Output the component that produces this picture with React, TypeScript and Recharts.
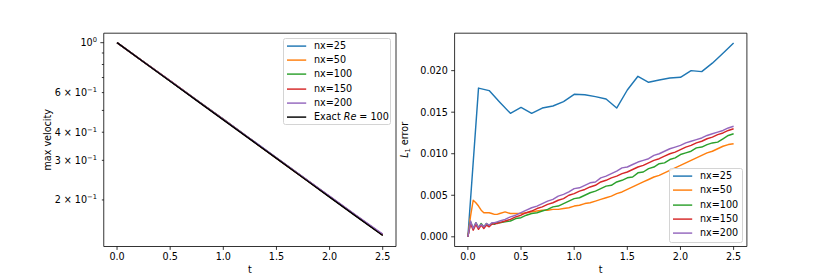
import React from 'react';
import { LineChart, Line, XAxis, YAxis, Legend, ReferenceArea } from 'recharts';

// ---- data ----
const T_VEL = [0, 0.25, 0.5, 0.75, 1.0, 1.25, 1.5, 1.75, 2.0, 2.25, 2.5];
const VEL_NX25 = [1.0, 0.823, 0.677, 0.556, 0.457, 0.375, 0.308, 0.253, 0.207, 0.17, 0.14];
const VEL_NX50 = [1.0, 0.822, 0.676, 0.555, 0.456, 0.374, 0.307, 0.252, 0.207, 0.17, 0.14];
const VEL_NX100 = [1.0, 0.822, 0.675, 0.555, 0.456, 0.374, 0.307, 0.252, 0.207, 0.17, 0.14];
const VEL_NX150 = [1.0, 0.822, 0.676, 0.555, 0.456, 0.374, 0.307, 0.252, 0.207, 0.17, 0.14];
const VEL_NX200 = [1.0, 0.822, 0.676, 0.555, 0.456, 0.375, 0.308, 0.253, 0.208, 0.171, 0.141];
const VEL_EXACT = [1.0, 0.821, 0.674, 0.553, 0.454, 0.373, 0.306, 0.251, 0.206, 0.169, 0.139];

const T_ERR_25 = [
  0, 0.1, 0.2, 0.3, 0.4, 0.5, 0.6, 0.7, 0.8, 0.9, 1.0, 1.1, 1.2, 1.3, 1.4, 1.5, 1.6, 1.7, 1.8, 1.9,
  2.0, 2.1, 2.2, 2.3, 2.4, 2.5,
];
const ERR_NX25 = [
  0, 0.0179, 0.0176, 0.0162, 0.01486, 0.01558, 0.01486, 0.0155, 0.01574, 0.01627, 0.01715, 0.0171,
  0.01687, 0.01659, 0.0155, 0.01767, 0.01932, 0.0186, 0.01888, 0.01912, 0.0192, 0.02, 0.01988,
  0.0209, 0.0221, 0.02333,
];

const T_ERR = [
  0, 0.025, 0.05, 0.075, 0.1, 0.125, 0.15, 0.175, 0.2, 0.225, 0.25, 0.275, 0.3, 0.35, 0.4, 0.45,
  0.5, 0.55, 0.6, 0.65, 0.7, 0.75, 0.8, 0.85, 0.9, 0.95, 1.0, 1.05, 1.1, 1.15, 1.2, 1.25, 1.3, 1.35,
  1.4, 1.45, 1.5, 1.55, 1.6, 1.65, 1.7, 1.75, 1.8, 1.85, 1.9, 1.95, 2.0, 2.05, 2.1, 2.15, 2.2, 2.25,
  2.3, 2.35, 2.4, 2.45, 2.5,
];
const ERR_NX50 = [
  0, 0.0025, 0.0044, 0.0041, 0.0037, 0.0032, 0.0029, 0.0029, 0.0029, 0.0028, 0.0027, 0.0027, 0.0028,
  0.003, 0.0028, 0.0028, 0.0028, 0.0029, 0.003, 0.0031, 0.0032, 0.0032, 0.0033, 0.0033, 0.0034,
  0.0035, 0.0037, 0.0038, 0.004, 0.0041, 0.0043, 0.0045, 0.0047, 0.0049, 0.0052, 0.0054, 0.0057,
  0.006, 0.0063, 0.0066, 0.0069, 0.0072, 0.0074, 0.0077, 0.008, 0.0083, 0.0086, 0.0089, 0.0092,
  0.0095, 0.0098, 0.0101, 0.0103, 0.0106, 0.0109, 0.0111, 0.0112,
];
const ERR_NX100 = [
  0, 0.0018, 0.001, 0.0017, 0.0011, 0.0016, 0.0012, 0.0016, 0.0013, 0.0016, 0.0015, 0.0017, 0.0017,
  0.0018, 0.0019, 0.0022, 0.0023, 0.0026, 0.0028, 0.0029, 0.0031, 0.0033, 0.0036, 0.0037, 0.004,
  0.0043, 0.0046, 0.0047, 0.005, 0.0053, 0.0055, 0.0058, 0.0061, 0.0062, 0.0066, 0.0068, 0.0071,
  0.0072, 0.0077, 0.0078, 0.0082, 0.0084, 0.0088, 0.0089, 0.0093, 0.0095, 0.0099, 0.0101, 0.0103,
  0.0107, 0.0108, 0.0111, 0.0113, 0.0114, 0.0118, 0.0122, 0.0124,
];
const ERR_NX150 = [
  0, 0.0016, 0.0008, 0.0015, 0.0009, 0.0014, 0.001, 0.0014, 0.0012, 0.0015, 0.0016, 0.0016, 0.0017,
  0.0019, 0.0021, 0.0024, 0.0026, 0.0029, 0.0031, 0.0034, 0.0036, 0.0039, 0.0041, 0.0044, 0.0046,
  0.005, 0.0052, 0.0055, 0.0057, 0.006, 0.0062, 0.0066, 0.0068, 0.0071, 0.0073, 0.0076, 0.0078,
  0.0081, 0.0084, 0.0086, 0.0089, 0.0092, 0.0094, 0.0097, 0.01, 0.0102, 0.0105, 0.0108, 0.011,
  0.0113, 0.0115, 0.0118, 0.012, 0.0123, 0.0125, 0.0128, 0.013,
];
const ERR_NX200 = [
  0, 0.0019, 0.001, 0.0017, 0.0011, 0.0015, 0.0012, 0.0016, 0.0014, 0.0017, 0.0017, 0.0018, 0.0019,
  0.0021, 0.0024, 0.0026, 0.0029, 0.0032, 0.0035, 0.0037, 0.004, 0.0043, 0.0045, 0.0049, 0.0051,
  0.0054, 0.0058, 0.0059, 0.0062, 0.0065, 0.0066, 0.0071, 0.0073, 0.0076, 0.0079, 0.0083, 0.0084,
  0.0087, 0.009, 0.0092, 0.0094, 0.0098, 0.01, 0.0103, 0.0106, 0.0108, 0.011, 0.0113, 0.0115,
  0.0117, 0.0119, 0.0122, 0.0124, 0.0126, 0.0128, 0.0131, 0.0133,
];

const T_TICKS = [0, 0.5, 1.0, 1.5, 2.0, 2.5];
const VEL_TICKS = [0.2, 0.3, 0.4, 0.5, 0.6, 0.7, 0.8, 0.9, 1.0];
const VEL_TICK_LABELS: Record<string, [string, string]> = {
  '0.2': ['2 × 10', '−1'],
  '0.3': ['3 × 10', '−1'],
  '0.4': ['4 × 10', '−1'],
  '0.6': ['6 × 10', '−1'],
  '1': ['10', '0'],
};
const ERR_TICKS = [0, 0.005, 0.01, 0.015, 0.02];

const COLORS = ['#1f77b4', '#ff7f0e', '#2ca02c', '#d62728', '#9467bd', '#000000'];
const NAMES = ['nx=25', 'nx=50', 'nx=100', 'nx=150', 'nx=200'];

const rows = (ts: number[], vs: number[]) => ts.map((t, i) => ({ t, v: vs[i] }));

const velSeries = [VEL_NX25, VEL_NX50, VEL_NX100, VEL_NX150, VEL_NX200, VEL_EXACT].map((vs) =>
  rows(T_VEL, vs)
);
const errSeries = [
  rows(T_ERR_25, ERR_NX25),
  rows(T_ERR, ERR_NX50),
  rows(T_ERR, ERR_NX100),
  rows(T_ERR, ERR_NX150),
  rows(T_ERR, ERR_NX200),
];

// ---- styling ----
const FONT = 'DejaVu Sans';
const FS = 9.6;
const LW = 1.44;
const X_DOMAIN: [number, number] = [-0.125, 2.625];
const VEL_DOMAIN: [number, number] = [0.1242, 1.102];
const ERR_DOMAIN: [number, number] = [-0.001167, 0.024507];
const PLOT_L = 103.75;

const tickStyle = { fill: '#000', fontSize: FS, fontFamily: FONT };
const tickLineStyle = { stroke: '#000', strokeWidth: 0.8 };

const LogTick = (props: any) => {
  const { y, payload } = props;
  const v = payload.value;
  const lab = VEL_TICK_LABELS[String(Math.round(v * 10) / 10)];
  const len = v === 1 ? 3.4 : 1.9;
  return (
    <g>
      <line x1={PLOT_L - len} x2={PLOT_L} y1={y} y2={y} stroke="#000" strokeWidth={0.8} />
      {lab && (
        <text
          x={PLOT_L - 3.4 - 3.4}
          y={y}
          dy="0.35em"
          textAnchor="end"
          fontSize={FS}
          fontFamily={FONT}
          fill="#000"
        >
          <tspan>{lab[0]}</tspan>
          <tspan dy={-4} fontSize={6.7}>
            {lab[1]}
          </tspan>
        </text>
      )}
    </g>
  );
};

const XLabel = ({ cx }: { cx: number }) => (
  <text x={cx} y={273} textAnchor="middle" fontSize={FS} fontFamily={FONT} fill="#000">
    t
  </text>
);

const VelLabel = () => (
  <text
    transform="translate(51,139.85) rotate(-90)"
    textAnchor="middle"
    fontSize={FS}
    fontFamily={FONT}
    fill="#000"
  >
    max velocity
  </text>
);

const ErrLabel = () => (
  <text
    transform="translate(28,139.85) rotate(-90)"
    textAnchor="middle"
    fontSize={FS}
    fontFamily={FONT}
    fill="#000"
  >
    <tspan fontStyle="italic">L</tspan>
    <tspan dy={2} fontSize={6.7}>
      1
    </tspan>
    <tspan dy={-2}> error</tspan>
  </text>
);

type LegendItem = { color: string; label: React.ReactNode };

const LegendBox = ({ items, width, height }: { items: LegendItem[]; width: number; height: number }) => (
  <div
    style={{
      width,
      height,
      boxSizing: 'border-box',
      border: '1px solid #d4d4d4',
      borderRadius: 2.5,
      background: 'rgba(255,255,255,0.8)',
      paddingTop: 0,
    }}
  >
    {items.map((it, i) => (
      <div key={i} style={{ height: 14.2, display: 'flex', alignItems: 'center' }}>
        <svg width={22.5} height={14.2} style={{ flex: 'none' }}>
          <line x1={3} x2={22.2} y1={7.1} y2={7.1} stroke={it.color} strokeWidth={LW} />
        </svg>
        <span
          style={{
            marginLeft: 7.5,
            fontSize: FS,
            fontFamily: FONT,
            color: '#000',
            whiteSpace: 'nowrap',
            lineHeight: '14.2px',
          }}
        >
          {it.label}
        </span>
      </div>
    ))}
  </div>
);

const velLegend: LegendItem[] = [
  ...NAMES.map((n, i) => ({ color: COLORS[i], label: n })),
  {
    color: COLORS[5],
    label: (
      <>
        Exact <i>Re</i> = 100
      </>
    ),
  },
];
const errLegend: LegendItem[] = NAMES.map((n, i) => ({ color: COLORS[i], label: n }));

export default function App() {
  return (
    <div
      style={{ position: 'absolute', left: 0, top: 0, width: 830, height: 277, background: '#fff' }}
    >
      <div style={{ position: 'absolute', left: 0, top: 0 }}>
        <LineChart width={415} height={277} margin={{ top: 33.2, right: 19, bottom: 0.5, left: 43.75 }}>
          <XAxis
            dataKey="t"
            type="number"
            domain={X_DOMAIN}
            ticks={T_TICKS}
            interval={0}
            tickFormatter={(v: number) => v.toFixed(1)}
            allowDataOverflow
            height={30}
            axisLine={false}
            tickSize={3.4}
            tickMargin={3.4}
            tick={tickStyle}
            tickLine={tickLineStyle}
            label={<XLabel cx={249.9} />}
          />
          <YAxis
            dataKey="v"
            type="number"
            scale="log"
            domain={VEL_DOMAIN}
            ticks={VEL_TICKS}
            interval={0}
            allowDataOverflow
            width={60}
            axisLine={false}
            tickLine={false}
            tick={<LogTick />}
            label={<VelLabel />}
          />
          <ReferenceArea
            x1={X_DOMAIN[0]}
            x2={X_DOMAIN[1]}
            y1={VEL_DOMAIN[0]}
            y2={VEL_DOMAIN[1]}
            fill="none"
            stroke="#000"
            strokeWidth={0.8}
            ifOverflow="visible"
          />
          {velSeries.map((d, i) => (
            <Line
              key={i}
              data={d}
              dataKey="v"
              name={i < 5 ? NAMES[i] : 'Exact Re = 100'}
              type="linear"
              stroke={COLORS[i]}
              strokeWidth={LW}
              strokeLinejoin="round"
              dot={false}
              activeDot={false}
              isAnimationActive={false}
            />
          ))}
          <Legend
            layout="vertical"
            align="center"
            verticalAlign="middle"
            wrapperStyle={{ left: 283, top: 38, width: 108, height: 87 }}
            content={() => <LegendBox items={velLegend} width={108} height={87} />}
          />
        </LineChart>
      </div>
      <div style={{ position: 'absolute', left: 380, top: 0 }}>
        <LineChart width={450} height={277} margin={{ top: 33.2, right: 83.1, bottom: 0.5, left: 14.6 }}>
          <XAxis
            dataKey="t"
            type="number"
            domain={X_DOMAIN}
            ticks={T_TICKS}
            interval={0}
            tickFormatter={(v: number) => v.toFixed(1)}
            allowDataOverflow
            height={30}
            axisLine={false}
            tickSize={3.4}
            tickMargin={3.4}
            tick={tickStyle}
            tickLine={tickLineStyle}
            label={<XLabel cx={220.75} />}
          />
          <YAxis
            dataKey="v"
            type="number"
            domain={ERR_DOMAIN}
            ticks={ERR_TICKS}
            interval={0}
            tickFormatter={(v: number) => v.toFixed(3)}
            allowDataOverflow
            width={60}
            axisLine={false}
            tickSize={3.4}
            tickMargin={3.4}
            tick={tickStyle}
            tickLine={tickLineStyle}
            label={<ErrLabel />}
          />
          <ReferenceArea
            x1={X_DOMAIN[0]}
            x2={X_DOMAIN[1]}
            y1={ERR_DOMAIN[0]}
            y2={ERR_DOMAIN[1]}
            fill="none"
            stroke="#000"
            strokeWidth={0.8}
            ifOverflow="visible"
          />
          {errSeries.map((d, i) => (
            <Line
              key={i}
              data={d}
              dataKey="v"
              name={NAMES[i]}
              type="linear"
              stroke={COLORS[i]}
              strokeWidth={LW}
              strokeLinejoin="round"
              dot={false}
              activeDot={false}
              isAnimationActive={false}
            />
          ))}
          <Legend
            layout="vertical"
            align="center"
            verticalAlign="middle"
            wrapperStyle={{ left: 289, top: 168.3, width: 73.7, height: 74.4 }}
            content={() => <LegendBox items={errLegend} width={73.7} height={74.4} />}
          />
        </LineChart>
      </div>
    </div>
  );
}
